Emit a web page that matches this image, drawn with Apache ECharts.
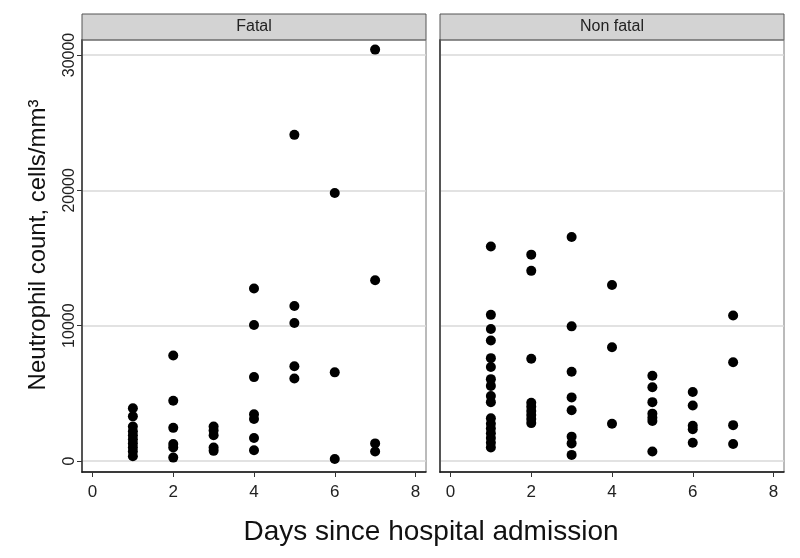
<!DOCTYPE html>
<html><head><meta charset="utf-8">
<script src="https://cdn.jsdelivr.net/npm/echarts@6/dist/echarts.min.js"></script>
<style>html,body{margin:0;padding:0;background:#fff}#c{width:800px;height:558px}</style>
</head><body><div id="c"></div>
<script>
const panelNames = ['Fatal', 'Non fatal'];
const xTicks = [0, 2, 4, 6, 8];
const yTicks = [0, 10000, 20000, 30000];
const xTitle = 'Days since hospital admission';
const yTitle = 'Neutrophil count, cells/mm³';

const fatalDays = [1,1,1,1,1,1,1,1,1,1, 2,2,2,2,2,2, 3,3,3,3,3, 4,4,4,4,4,4,4, 5,5,5,5,5, 6,6,6, 7,7,7,7];
const fatalCounts = [3900,3300,2550,2200,1900,1600,1300,1000,700,350,
  7800,4450,2450,1250,1000,250,
  2550,2250,1900,1000,750,
  12750,10050,6200,3450,3100,1700,800,
  24100,11450,10200,7000,6100,
  19800,6550,150,
  30400,13350,1300,700];

const nonFatalDays = [1,1,1,1,1,1,1,1,1,1,1,1,1,1,1,1,1, 2,2,2,2,2,2,2,2,2, 3,3,3,3,3,3,3,3, 4,4,4, 5,5,5,5,5,5,5, 6,6,6,6,6, 7,7,7,7];
const nonFatalCounts = [15850,10800,9750,8900,7600,6950,6050,5550,4800,4350,3150,2750,2400,2050,1700,1350,1000,
  15250,14050,7550,4300,4000,3700,3400,3100,2800,
  16550,9950,6600,4700,3750,1800,1300,450,
  13000,8400,2750,
  6300,5450,4350,3500,3200,2950,700,
  5100,4100,2600,2350,1350,
  10750,7300,2650,1250];

const zip = (a, b) => a.map((v, i) => [v, b[i]]);
const FONT = 'Liberation Sans, Arial, sans-serif';
const chart = echarts.init(document.getElementById('c'), null, {renderer: 'canvas'});

const grids = [
  {left: 82, right: 374, top: 40, bottom: 86},
  {left: 440, right: 16, top: 40, bottom: 86}
];
function xAxis(i) {
  return {
    gridIndex: i, type: 'value', min: -0.26, max: 8.26,
    axisLine: {show: true, onZero: false, lineStyle: {color: '#111', width: 1.5}},
    axisTick: {show: true, length: 5, customValues: xTicks, lineStyle: {color: '#333'}},
    axisLabel: {customValues: xTicks, color: '#222', fontSize: 17, fontFamily: FONT, margin: 12},
    splitLine: {show: false}
  };
}
function yAxis(i) {
  return {
    gridIndex: i, type: 'value', min: -813, max: 31110,
    axisLine: {show: true, onZero: false, lineStyle: {color: '#555', width: 2}},
    axisTick: {show: i === 0, length: 5, customValues: yTicks, lineStyle: {color: '#333'}},
    axisLabel: {show: i === 0, customValues: yTicks, rotate: 90, color: '#222', fontSize: 16, fontFamily: FONT, margin: 4,
      formatter: v => String(v)},
    splitLine: {show: true, lineStyle: {color: '#d8d8d8', width: 1.5}}
  };
}

const graphics = [];
grids.forEach((g, i) => {
  const x0 = g.left, x1 = 800 - g.right;
  graphics.push({type: 'rect', shape: {x: x0, y: 14, width: x1 - x0, height: 26},
    style: {fill: '#d3d3d3', stroke: '#555', lineWidth: 1}});
  graphics.push({type: 'rect', shape: {x: x0, y: 40, width: x1 - x0, height: 432},
    style: {fill: 'none', stroke: '#777', lineWidth: 1}, z: 0});
  graphics.push({type: 'text', x: (x0 + x1) / 2, y: 27,
    style: {text: panelNames[i], fill: '#222', font: '16px ' + FONT, textAlign: 'center', textVerticalAlign: 'middle'}});
});
graphics.push({type: 'text', x: 431, y: 532,
  style: {text: xTitle, fill: '#111', font: '28px ' + FONT, textAlign: 'center', textVerticalAlign: 'middle'}});
graphics.push({type: 'text', x: 38, y: 245, rotation: Math.PI / 2,
  style: {text: yTitle, fill: '#111', font: '24px ' + FONT, textAlign: 'center', textVerticalAlign: 'middle'}});

chart.setOption({
  animation: false,
  backgroundColor: '#fff',
  grid: grids,
  xAxis: [xAxis(0), xAxis(1)],
  yAxis: [yAxis(0), yAxis(1)],
  series: [
    {type: 'scatter', xAxisIndex: 0, yAxisIndex: 0, data: zip(fatalDays, fatalCounts), symbolSize: 10, itemStyle: {color: '#000', opacity: 1}},
    {type: 'scatter', xAxisIndex: 1, yAxisIndex: 1, data: zip(nonFatalDays, nonFatalCounts), symbolSize: 10, itemStyle: {color: '#000', opacity: 1}}
  ],
  graphic: graphics
});
</script></body></html>
